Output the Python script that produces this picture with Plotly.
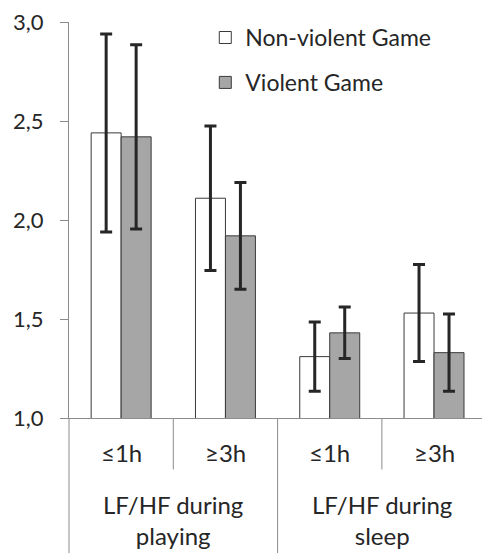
import plotly.graph_objects as go

categories = ["≤1h", "≥3h", "≤1h", "≥3h"]
groups = ["LF/HF during<br>playing", "LF/HF during<br>sleep"]
nonviolent = [2.44, 2.11, 1.31, 1.53]
nonviolent_err = [0.50, 0.365, 0.175, 0.245]
violent = [2.42, 1.92, 1.43, 1.33]
violent_err = [0.465, 0.27, 0.13, 0.195]
ytickvals = [1.0, 1.5, 2.0, 2.5, 3.0]
yticktext = ["1,0", "1,5", "2,0", "2,5", "3,0"]

FONT = "Lato"
TXT = "#262626"
AX = "#8c8c8c"
xpos = list(range(len(categories)))

fig = go.Figure()
fig.add_trace(go.Bar(
    x=xpos, y=nonviolent, name="Non-violent Game", legendgroup="a",
    marker=dict(color="white", line=dict(color="#3a3a3a", width=1)),
    error_y=dict(type="data", array=nonviolent_err, color="#262626", thickness=3, width=6),
))
fig.add_trace(go.Bar(
    x=xpos, y=violent, name="Violent Game", legendgroup="b",
    marker=dict(color="#a6a6a6", line=dict(color="#3a3a3a", width=1)),
    error_y=dict(type="data", array=violent_err, color="#262626", thickness=3, width=6),
))

# category labels
for i, c in enumerate(categories):
    fig.add_annotation(x=i, y=-0.088, xref="x", yref="paper", text=c, showarrow=False,
                       font=dict(family=FONT, size=24, color=TXT), yanchor="middle")
# group labels
for g, lab in enumerate(groups):
    fig.add_annotation(x=2 * g + 0.5, y=-0.257, xref="x", yref="paper", text=lab, showarrow=False,
                       font=dict(family=FONT, size=24, color=TXT), yanchor="middle")
# dividers
for xb in [0.5, 2.5]:
    fig.add_shape(type="line", xref="x", yref="paper", x0=xb, x1=xb, y0=0, y1=-0.13,
                  line=dict(color=AX, width=1))
for xb in [1.5, 3.5]:
    fig.add_shape(type="line", xref="x", yref="paper", x0=xb, x1=xb, y0=0, y1=-0.36,
                  line=dict(color=AX, width=1))
fig.add_shape(type="line", xref="paper", yref="paper", x0=0, x1=0, y0=0, y1=-0.36,
              line=dict(color=AX, width=1))

fig.update_layout(
    width=482, height=553,
    margin=dict(l=69, r=0, t=22, b=135),
    paper_bgcolor="white", plot_bgcolor="white",
    barmode="group", bargap=0.425, bargroupgap=0,
    font=dict(family=FONT, size=21, color=TXT),
    showlegend=True,
    legend=dict(x=0.33, y=1.015, xanchor="left", yanchor="top",
                font=dict(family=FONT, size=23, color=TXT),
                tracegroupgap=12, bgcolor="rgba(0,0,0,0)"),
    xaxis=dict(range=[-0.5, 3.46], showticklabels=False, ticks="", showgrid=False,
               zeroline=False, showline=True, linecolor=AX, linewidth=1),
    yaxis=dict(range=[1.0, 3.0], tickvals=ytickvals, ticktext=yticktext, ticks="outside",
               ticklen=8, tickcolor=AX, showgrid=False, zeroline=False, showline=True,
               linecolor=AX, linewidth=1, ticklabelstandoff=12,
               tickfont=dict(family=FONT, size=22, color=TXT)),
)
fig.write_html("out.html")
